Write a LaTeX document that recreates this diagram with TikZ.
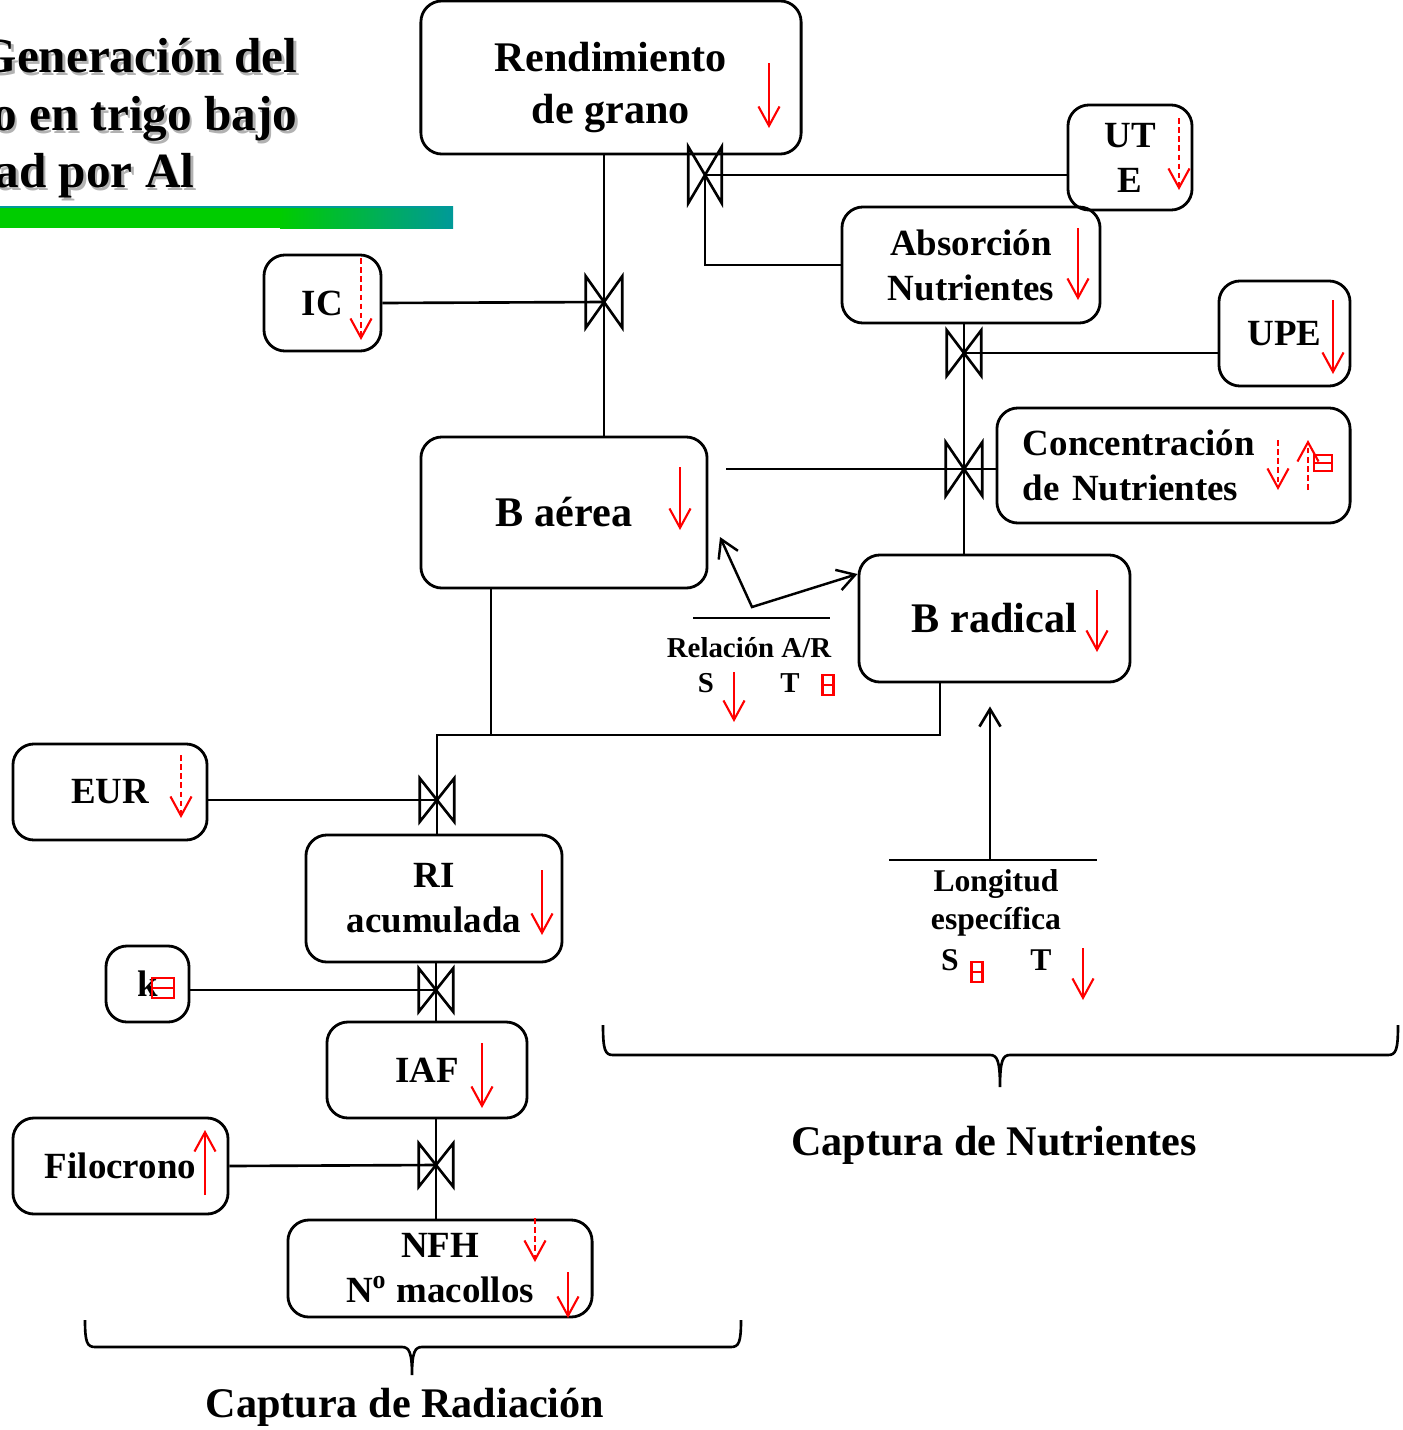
\documentclass[tikz,border=0pt]{standalone}
\usepackage{fontspec}
\setmainfont{Liberation Serif}
\usepackage{tikz}
\usetikzlibrary{arrows.meta, positioning}

\definecolor{verde}{RGB}{0,204,0}
\definecolor{verdeazul}{RGB}{0,153,153}

\tikzset{
  caja/.style={draw, line width=0.8pt, rounded corners=6pt, align=center, inner sep=0pt,
    font=\bfseries\fontsize{10.5}{12.8}\selectfont},
  grande/.style={font=\bfseries\fontsize{12}{14.8}\selectfont},
  titulo/.style={inner sep=0pt, font=\bfseries\fontsize{14}{16}\selectfont},
  texto/.style={inner sep=0pt, align=center, font=\bfseries\fontsize{9}{10.8}\selectfont},
  chico/.style={font=\bfseries\fontsize{8.2}{10}\selectfont},
  valv/.style={inner sep=0pt, minimum width=0.33cm, minimum height=0.46cm},
  linea/.style={line width=0.75pt},
  flecharoja/.style={draw=red, line width=0.6pt, -{Straight Barb[length=5.5pt,width=6pt]}},
  discont/.style={dash pattern=on 1.6pt off 1pt},
  punta/.style={-{Straight Barb[length=5pt,width=6pt]}},
  flechanegra/.style={line width=0.7pt, {Straight Barb[length=5pt,width=6pt]}-{Straight Barb[length=5pt,width=6pt]}},
}

\begin{document}
\begin{tikzpicture}[x=0.01cm, y=-0.01cm]
	\useasboundingbox (0,0) rectangle (1403,1430);
	\fill[white] (0,0) rectangle (1403,1430);
	\clip (0,0) rectangle (1403,1430);

	% titulo con sombra y barra de color
	\foreach \n/\xx/\yy/\t in {1/298/72/Generación del, 2/298/130/to en trigo bajo, 3/195/187/dad por Al} {
		\node[titulo, text=black!30, anchor=base east] (sombra\n) at (\xx+2.5,\yy+3) {\t};
		\node[titulo, anchor=base east] (titulo\n) at (\xx,\yy) {\t};
	}
	\fill[verde] (0,206) rectangle (281,228);
	\shade[left color=verde, right color=verdeazul] (280,206) rectangle (453,228);
	\draw[verdeazul, line width=0.7pt] (0,207) -- (453,207);

	% cajas
	\node[caja, grande, minimum width=3.80cm, minimum height=1.53cm] (rend) at (611,77.5) {\rule{0pt}{14pt}Rendimiento\\de grano};
	\node[caja, minimum width=1.24cm, minimum height=1.05cm] (ute) at (1130,157.5) {UT\\E};
	\node[caja, minimum width=2.58cm, minimum height=1.16cm] (abs) at (971,265) {Absorción\\Nutrientes};
	\node[caja, minimum width=1.17cm, minimum height=0.96cm] (ic) at (322.5,303) {IC};
	\node[caja, minimum width=1.31cm, minimum height=1.05cm] (upe) at (1284.5,333.5) {UPE};
	\node[caja, minimum width=3.53cm, minimum height=1.15cm, text width=3.01cm, inner xsep=0.26cm, align=left] (conc) at (1173.5,465.5) {Concentración\\de Nutrientes};
	\node[caja, grande, minimum width=2.86cm, minimum height=1.51cm] (baer) at (564,512.5) {B aérea};
	\node[caja, grande, minimum width=2.71cm, minimum height=1.27cm] (brad) at (994.5,618.5) {B radical};
	\node[caja, minimum width=1.94cm, minimum height=0.96cm] (eur) at (110,792) {EUR};
	\node[caja, minimum width=2.56cm, minimum height=1.27cm] (ria) at (434,898.5) {RI\\acumulada};
	\node[caja, minimum width=0.83cm, minimum height=0.76cm] (kbox) at (147.5,984) {k};
	\node[caja, minimum width=2.00cm, minimum height=0.96cm] (iaf) at (427,1070) {IAF};
	\node[caja, minimum width=2.15cm, minimum height=0.96cm] (filo) at (120.5,1166) {Filocrono};
	\node[caja, minimum width=3.04cm, minimum height=0.97cm] (nfh) at (440,1268.5) {NFH\\N\textsuperscript{o} macollos};

	% valvulas
	\node[valv, minimum width=0.32cm, minimum height=0.55cm] (va) at (705,175) {};
	\node[valv, minimum width=0.35cm, minimum height=0.50cm] (vb) at (604,302) {};
	\node[valv, minimum height=0.44cm] (vc) at (964,353) {};
	\node[valv, minimum width=0.35cm, minimum height=0.52cm] (vd) at (964,469) {};
	\node[valv, minimum height=0.42cm] (ve) at (437,800) {};
	\node[valv, minimum height=0.42cm] (vf) at (436,990) {};
	\node[valv, minimum height=0.42cm] (vg) at (436,1165) {};
	\foreach \v in {va,vb,vc,vd,ve,vf,vg}
		\draw[linea] (\v.south west) -- (\v.north west) -- (\v.south east) -- (\v.north east) -- cycle;

	% conexiones
	\draw[linea] (vb |- rend.south) -- (vb |- baer.north);
	\draw[linea] (ic.east) -- (vb.center);
	\draw[linea] (ute.west |- va) -- (va.center) -- (va |- abs.west) -- (abs.west);
	\draw[linea] (vc |- abs.south) -- (vc |- brad.north);
	\draw[linea] (upe.west |- vc) -- (vc.center);
	\draw[linea, shorten >=0.17cm] (conc.west |- vd) -- (vd -| baer.east);
	\coordinate (j1) at (491,735);
	\coordinate (j2) at (940,735);
	\draw[linea] (baer.south -| j1) -- (j1) -- (j2) -- (j2 |- brad.south);
	\draw[linea] (j1) -- (ve |- j1) -- (ve |- ria.north);
	\draw[linea] (eur.east |- ve) -- (ve.center);
	\draw[linea] (kbox.east |- vf) -- (vf.center);
	\draw[linea] (vf |- ria.south) -- (vf |- iaf.north);
	\draw[linea] (filo.east) -- (vg.center);
	\draw[linea] (vg |- iaf.south) -- (vg |- nfh.north);

	% relacion A/R
	\coordinate (rel) at (752,607);
	\coordinate (relb) at (720,537);
	\draw[flechanegra] (relb) -- (rel) -- (brad.162);
	\draw[linea] (693,618) -- (830,618);
	\node[texto, chico] (relt) at (749,648) {Relación A/R};
	\node[texto, chico] (rels) at (706,683) {S};
	\node[texto, chico] (relT) at (790,683) {T};

	% longitud especifica
	\coordinate (lon) at (990,860);
	\draw[linea, punta, shorten >=0.23cm] (lon) -- (lon |- brad.south);
	\draw[linea] (889,860) -- (1097,860);
	\node[texto] (lont) at (996,903) {Longitud\\específica};
	\node[texto] (lons) at (950,960) {S};
	\node[texto] (lonT) at (1041,960) {T};

	% flechas rojas
	\foreach \x/\ya/\yb/\st in {769/63/128/solid, 1179/118/190/discont, 1078/228/300/solid,
		361/258/340/discont, 1333/300/374/solid, 1278/440/490/discont, 1308/490/440/discont,
		680/467/530/solid, 1097/590/652/solid, 734/672/722/solid, 181/755/818/discont,
		542/870/935/solid, 482/1043/1108/solid, 205/1195/1130/solid, 535/1218/1262/discont,
		568/1272/1318/solid, 1083/948/1000/solid}
		\draw[flecharoja, \st] (\x,\ya) -- (\x,\yb);
	\foreach \cx/\cy/\w/\h in {163/988/22/10, 1323/463/18/8, 828/685/11/10, 977/972/11/10}
		\draw[red, line width=0.8pt] (\cx-\w/2,\cy-\h) rectangle (\cx+\w/2,\cy) (\cx-\w/2,\cy) rectangle (\cx+\w/2,\cy+\h);

	% llaves
	\draw[linea] (603,1025) .. controls (603,1050) and (605,1055) .. (613,1055) -- (990,1055)
		.. controls (997,1055) and (1000,1060) .. (1000,1087)
		.. controls (1000,1060) and (1003,1055) .. (1010,1055) -- (1388,1055)
		.. controls (1396,1055) and (1398,1050) .. (1398,1025);
	\node[grande, inner sep=0pt] (capn) at (994,1145) {Captura de Nutrientes};
	\draw[linea] (85,1320) .. controls (85,1342) and (87,1347) .. (95,1347) -- (402,1347)
		.. controls (409,1347) and (412,1352) .. (412,1375)
		.. controls (412,1352) and (415,1347) .. (422,1347) -- (731,1347)
		.. controls (739,1347) and (741,1342) .. (741,1320);
	\node[grande, inner sep=0pt] (capr) at (405,1407) {Captura de Radiación};
\end{tikzpicture}
\end{document}
